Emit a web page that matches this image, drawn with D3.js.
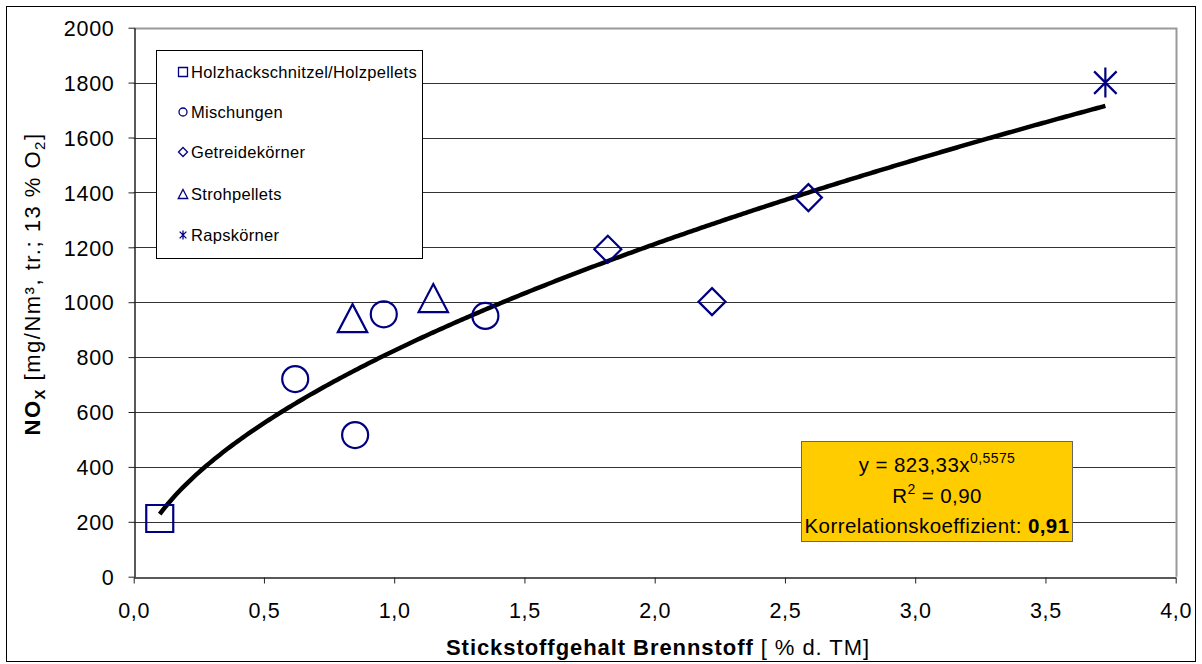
<!DOCTYPE html>
<html><head><meta charset="utf-8">
<script src="https://cdn.jsdelivr.net/npm/d3@7"></script>
<style>body{margin:0;background:#fff;} text{font-family:"Liberation Sans",Arial,sans-serif;}</style>
</head><body><svg id="c" width="1202" height="664"></svg>
<script>
const seriesNames = ["Holzhackschnitzel/Holzpellets","Mischungen","Getreidekörner","Strohpellets","Rapskörner"];
const seriesShapes = ["square","circle","diamond","triangle","star"];
const holzX = [0.1], holzY = [212];
const mischX = [0.62, 0.85, 0.96, 1.35], mischY = [720, 516, 956, 950];
const getreideX = [1.82, 2.22, 2.59], getreideY = [1193, 1002, 1381];
const strohX = [0.84, 1.15], strohY = [942, 1015];
const rapsX = [3.73], rapsY = [1800];
const xTicks = [0,0.5,1,1.5,2,2.5,3,3.5,4];
const yTicks = [0,200,400,600,800,1000,1200,1400,1600,1800,2000];
const fitA = 823.33, fitB = 0.5575, fitRange = [0.1, 3.73];

const svg = d3.select("#c");
const navy = "#000080";
function fit(sel, target){
  const len = sel.node().getComputedTextLength();
  const n = sel.text().length;
  const ls = (target-len)/n;
  sel.attr("letter-spacing", ls);
  return ls;
}
svg.append("rect").attr("x",6.5).attr("y",6.5).attr("width",1189).attr("height",655).attr("fill","#fff").attr("stroke","#000").attr("stroke-width",1);

const x = d3.scaleLinear().domain([0,4]).range([133.7,1175.7]);
const y = d3.scaleLinear().domain([0,2000]).range([576.7,27.7]);

// gridlines
svg.append("g").selectAll("line").data(yTicks.filter(d=>d>0&&d<2000)).join("line")
  .attr("x1",x(0)).attr("x2",x(4)).attr("y1",d=>Math.round(y(d))+0.5).attr("y2",d=>Math.round(y(d))+0.5)
  .attr("stroke","#333").attr("stroke-width",1);
// plot border (top/right gray)
svg.append("path").attr("d",`M${x(0)},${Math.round(y(2000))+0.5}H${Math.round(x(4))+0.5}V${y(0)}`)
  .attr("fill","none").attr("stroke","#999").attr("stroke-width",2);

// axes
const fmtX = d=>d3.format(".1f")(d).replace(".",",");
const gx = svg.append("g").attr("transform",`translate(0,${Math.round(y(0))+0.5})`)
  .call(d3.axisBottom(x).tickValues(xTicks).tickFormat(fmtX).tickSize(6).tickSizeOuter(0));
const gy = svg.append("g").attr("transform",`translate(${Math.round(x(0))+0.5},0)`)
  .call(d3.axisLeft(y).tickValues(yTicks).tickFormat(d=>String(d)).tickSize(6).tickSizeOuter(0));
[gx,gy].forEach(g=>{
  g.select(".domain").attr("stroke","#222").attr("stroke-width",1.5);
  g.selectAll(".tick line").attr("stroke","#222");
  g.selectAll("text").attr("font-size",21.5).attr("fill","#000").attr("letter-spacing",0.7)
    .attr("font-family","Liberation Sans, Arial, sans-serif");
});
gx.selectAll("text").attr("y",40).attr("dy",0);
gy.selectAll("text").attr("x",-20).attr("dy","0.36em");

// fit curve
const curveX = d3.range(fitRange[0], fitRange[1]+1e-9, 0.01).concat([fitRange[1]]);
svg.append("path").datum(curveX)
  .attr("d", d3.line().x(d=>x(d)).y(d=>y(fitA*Math.pow(d,fitB))))
  .attr("fill","none").attr("stroke","#000").attr("stroke-width",4.5);

// markers
function marker(g, shape, s){
  const p = g.append("path").attr("fill","none").attr("stroke",navy).attr("stroke-width",s>6?2.2:1.3);
  let d;
  if(shape==="square") d=`M${-s},${-s}H${s}V${s}H${-s}Z`;
  else if(shape==="circle") d=d3.arc()({innerRadius:0,outerRadius:s,startAngle:0,endAngle:2*Math.PI});
  else if(shape==="diamond") d=`M0,${-s}L${s},0L0,${s}L${-s},0Z`;
  else if(shape==="triangle") d=`M0,${-s}L${s*1.05},${s}L${-s*1.05},${s}Z`;
  else { const a=s*0.75; d=`M0,${-s}V${s}M${-a},${-a}L${a},${a}M${-a},${a}L${a},${-a}`; }
  p.attr("d",d);
}
const allSeries = [[holzX,holzY],[mischX,mischY],[getreideX,getreideY],[strohX,strohY],[rapsX,rapsY]];
const sizes = {square:13.5,circle:13,diamond:13.5,triangle:14,star:15};
allSeries.forEach(([xs,ys],i)=>{
  xs.forEach((xv,j)=>{
    const g = svg.append("g").attr("transform",`translate(${x(xv)},${y(ys[j])})`);
    marker(g, seriesShapes[i], sizes[seriesShapes[i]]);
  });
});

// legend
svg.append("rect").attr("x",156.5).attr("y",50.5).attr("width",266).attr("height",208).attr("fill","#fff").attr("stroke","#000").attr("stroke-width",1);
const legY = [72,112,152,194,235];
let legLS = null;
seriesNames.forEach((n,i)=>{
  const g = svg.append("g").attr("transform",`translate(183,${legY[i]})`);
  marker(g, seriesShapes[i], seriesShapes[i]==="circle"?4:4.5);
  const t = svg.append("text").attr("x",191).attr("y",legY[i]+6).attr("font-size",16.5).attr("fill","#000").text(n);
  if(i===0) legLS = fit(t, 226); else t.attr("letter-spacing", legLS);
});

// equation box
svg.append("rect").attr("x",801.5).attr("y",441.5).attr("width",271).attr("height",100).attr("fill","#FFCC00").attr("stroke","#666").attr("stroke-width",1);
const eq = svg.append("g");
const t1 = eq.append("text").attr("x",937).attr("y",472).attr("text-anchor","middle").attr("font-size",20.5);
t1.append("tspan").text("y = 823,33x");
t1.append("tspan").attr("dy",-9).attr("font-size",14).text("0,5575");
const t2 = eq.append("text").attr("x",937).attr("y",503).attr("text-anchor","middle").attr("font-size",20.5);
t2.append("tspan").text("R");
t2.append("tspan").attr("dy",-9).attr("font-size",14).text("2");
t2.append("tspan").attr("dy",9).text(" = 0,90");
const t3 = eq.append("text").attr("x",937).attr("y",533).attr("text-anchor","middle").attr("font-size",20.5);
t3.append("tspan").text("Korrelationskoeffizient: ");
t3.append("tspan").attr("font-weight","bold").text("0,91");
const eqLS = fit(t3, 265);
t1.attr("letter-spacing", eqLS); t2.attr("letter-spacing", eqLS);

// x title
const xt = svg.append("text").attr("x",658).attr("y",655).attr("text-anchor","middle").attr("font-size",22);
xt.append("tspan").attr("font-weight","bold").text("Stickstoffgehalt Brennstoff");
xt.append("tspan").text(" [ % d. TM]");
fit(xt, 424);

// y title
const yt = svg.append("text").attr("transform","translate(40,284) rotate(-90)").attr("text-anchor","middle").attr("font-size",22);
yt.append("tspan").attr("font-weight","bold").text("NO");
yt.append("tspan").attr("font-size",15).attr("font-weight","bold").attr("dy",5).text("X");
yt.append("tspan").attr("dy",-5).text(" [mg/Nm³, tr.; 13 % O");
yt.append("tspan").attr("font-size",15).attr("dy",5).text("2");
yt.append("tspan").attr("dy",-5).text("]");
fit(yt, 303);
</script></body></html>
